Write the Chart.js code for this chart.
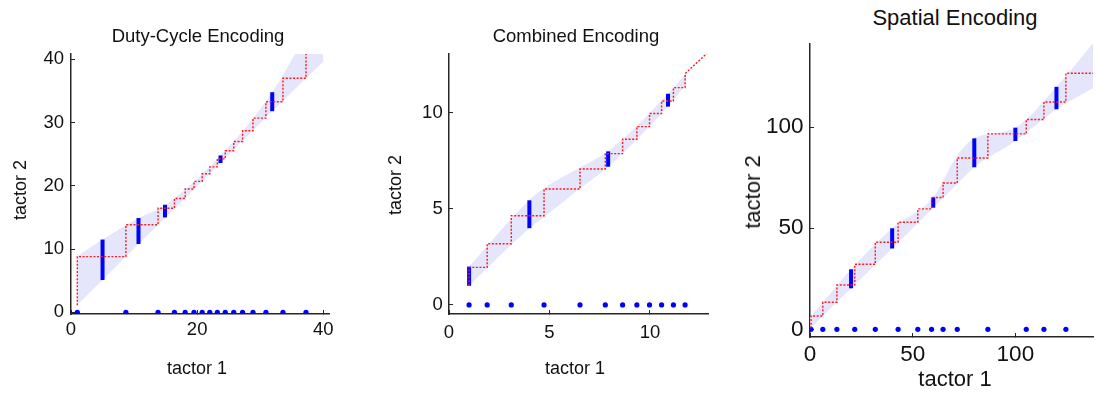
<!DOCTYPE html>
<html>
<head>
<meta charset="utf-8">
<script src="https://cdn.jsdelivr.net/npm/chart.js@4/dist/chart.umd.min.js"></script>
<style>
  html, body { margin: 0; padding: 0; background: #fff; }
  body { width: 1097px; height: 394px; position: relative; overflow: hidden;
         font-family: "Liberation Sans", Arial, sans-serif; color: #111; }
  canvas { position: absolute; }
  .lbl { position: absolute; white-space: nowrap; line-height: 1; transform: translate(-50%, -50%); }
  .rot { transform: translate(-50%, -50%) rotate(-90deg); }
</style>
</head>
<body>
<canvas id="duty" width="349" height="324" style="left:0px;top:40px"></canvas>
<canvas id="combo" width="339" height="324" style="left:389px;top:40px"></canvas>
<canvas id="spat" width="357" height="347" style="left:740px;top:30px"></canvas>

<div class="lbl" style="left:198px;top:36px;font-size:18.5px">Duty-Cycle Encoding</div>
<div class="lbl" style="left:197px;top:368px;font-size:18px">tactor 1</div>
<div class="lbl rot" style="left:20px;top:190px;font-size:18px">tactor 2</div>

<div class="lbl" style="left:576px;top:36px;font-size:18.5px">Combined Encoding</div>
<div class="lbl" style="left:575px;top:368px;font-size:18px">tactor 1</div>
<div class="lbl rot" style="left:395px;top:185px;font-size:18px">tactor 2</div>

<div class="lbl" style="left:955px;top:18px;font-size:22px">Spatial Encoding</div>
<div class="lbl" style="left:955px;top:379px;font-size:22px">tactor 1</div>
<div class="lbl rot" style="left:753px;top:192px;font-size:22px">tactor 2</div>

<script>
// ---- Duty-Cycle Encoding ----
// staircase: tactor 1 level of each trial, and tactor 2 level reached after it
const dutyT1 = [1, 8.7, 13.8, 16.4, 18.1, 19.5, 20.8, 22.0, 23.2, 24.45, 25.8, 27.2, 28.85, 30.9, 33.6, 37.25];
const dutyT2 = [8.8, 13.85, 16.45, 18.0, 19.5, 20.7, 21.9, 23.0, 24.25, 25.55, 27.0, 28.7, 30.7, 33.3, 37.0, 43];
const dutyStart = 1.1;
const dutyTail = [41, 43];
// blue error bars
const dutyBarX = [5, 10.7, 14.9, 23.7, 31.9];
const dutyBarLo = [5.1, 10.8, 15.0, 23.6, 31.8];
const dutyBarHi = [11.5, 14.9, 17.0, 24.8, 34.8];
// shaded band
const dutyBandX = [1, 5, 10.7, 15, 23.7, 31.9, 40];
const dutyBandHi = [8.9, 11.5, 14.9, 17.0, 24.8, 34.8, 49];
const dutyBandLo = [1.2, 5.1, 10.8, 15.0, 23.6, 31.8, 39.6];
const dutyTicksX = [0, 20, 40];
const dutyTicksY = [0, 10, 20, 30, 40];

// ---- Combined Encoding ----
const comboT1 = [1, 1.9, 3.1, 4.73, 6.52, 7.78, 8.64, 9.35, 9.98, 10.58, 11.17, 11.75];
const comboT2 = [1.96, 3.19, 4.65, 6.04, 7.08, 7.88, 8.63, 9.29, 9.97, 10.62, 11.32, 12.05];
const comboStart = 1.0;
const comboTail = [13.2, 13.45];
const comboBarX = [1, 4, 7.92, 10.9];
const comboBarLo = [1.0, 4.0, 7.2, 10.33];
const comboBarHi = [2.0, 5.45, 8.0, 11.0];
const comboBandX = [1, 4, 4.75, 6.5, 7.92, 10.9, 11.8];
const comboBandHi = [2.0, 5.47, 6.1, 7.15, 8.0, 11.0, 12.07];
const comboBandLo = [1.0, 4.0, 4.6, 6.05, 7.2, 10.33, 11.5];
const comboTicksX = [0, 5, 10];
const comboTicksY = [0, 5, 10];

// ---- Spatial Encoding ----
const spatT1 = [0.5, 6.24, 13.1, 21.8, 31.8, 42.9, 52.5, 59.2, 64.8, 71.7, 86.6, 105.3, 113.9, 124.6];
const spatT2 = [6.6, 13.4, 21.9, 32.2, 43.1, 53.0, 59.6, 65.2, 72.4, 84.8, 96.7, 103.8, 112.5, 126.7];
const spatStart = 0.5;
const spatTail = [145, 126.7];
const spatBarX = [20, 40, 60, 80, 100, 120];
const spatBarLo = [20.3, 40, 60.2, 80.2, 93.2, 108.9];
const spatBarHi = [29.7, 50, 65.3, 94.5, 99.8, 120];
const spatBandX = [0, 6, 20, 40, 60, 71.7, 80, 100, 120, 140];
const spatBandHi = [6, 13, 29.7, 50, 65.3, 86, 94.5, 99.8, 120, 144.3];
const spatBandLo = [0, 6.3, 20.3, 40, 60.2, 72, 80.2, 93.2, 108.9, 120.5];
const spatTicksX = [0, 50, 100];
const spatTicksY = [0, 50, 100];

const FONT = '"Liberation Sans", Arial, sans-serif';
const AXIS = '#262626';
const BAND = 'rgb(229,229,251)';

// vertical then horizontal steps: (x0,start) (x0,y0) (x1,y0) (x1,y1) ...
function staircase(xs, ys, start, tail) {
  const pts = [{ x: xs[0], y: start }];
  xs.forEach((x, i) => {
    pts.push({ x, y: ys[i] });
    if (i + 1 < xs.length) pts.push({ x: xs[i + 1], y: ys[i] });
  });
  pts.push({ x: tail[0], y: tail[1] });
  return pts;
}

function encodingChart(id, p) {
  const bars = p.barX.map((x, i) => ({
    data: [{ x, y: p.barLo[i] }, { x, y: p.barHi[i] }],
    borderColor: '#0000ff', borderWidth: 4, borderCapStyle: 'butt',
    pointRadius: 0, fill: false, order: 2
  }));
  const band = (ys) => p.bandX.map((x, i) => ({ x, y: ys[i] }));

  new Chart(document.getElementById(id), {
    type: 'line',
    data: {
      datasets: [
        { data: staircase(p.t1, p.t2, p.start, p.tail), borderColor: '#ff1a1a', borderWidth: 1.4,
          borderDash: [2, 1.6], pointRadius: 0, fill: false, order: 0 },
        { data: p.t1.map(x => ({ x, y: 0 })), showLine: false, pointRadius: 2.6,
          pointBackgroundColor: '#0000ff', pointBorderWidth: 0, order: 1 },
        ...bars,
        { data: band(p.bandHi), borderWidth: 0, borderColor: 'transparent', pointRadius: 0,
          cubicInterpolationMode: 'monotone', fill: '+1', backgroundColor: BAND, order: 8 },
        { data: band(p.bandLo), borderWidth: 0, borderColor: 'transparent', pointRadius: 0,
          cubicInterpolationMode: 'monotone', fill: false, order: 9 }
      ]
    },
    options: {
      responsive: false,
      animation: false,
      events: [],
      layout: { padding: { top: p.padTop, right: p.padRight, left: 0, bottom: 0 } },
      plugins: { legend: { display: false }, tooltip: { enabled: false } },
      scales: {
        x: {
          type: 'linear', min: p.xMin, max: p.xMax, offset: false,
          border: { display: true, color: AXIS, width: 1.5 },
          grid: { drawOnChartArea: false, drawTicks: true, tickLength: -4, color: AXIS, lineWidth: 1, offset: false },
          ticks: { font: { family: FONT, size: p.tickSize }, color: '#111', padding: p.xPad, maxRotation: 0, autoSkip: false },
          afterBuildTicks: s => { s.ticks = p.ticksX.map(v => ({ value: v })); },
          afterFit: s => { s.height = p.xAxisH; s.paddingLeft = 0; s.paddingRight = 0; }
        },
        y: {
          type: 'linear', min: p.yMin, max: p.yMax,
          border: { display: true, color: AXIS, width: 1.5 },
          grid: { drawOnChartArea: false, drawTicks: true, tickLength: -4, color: AXIS, lineWidth: 1 },
          ticks: { font: { family: FONT, size: p.tickSize }, color: '#111', padding: p.yPad, autoSkip: false },
          afterBuildTicks: s => { s.ticks = p.ticksY.map(v => ({ value: v })); },
          afterFit: s => { s.width = p.yAxisW; s.paddingTop = 0; s.paddingBottom = 0; }
        }
      }
    }
  });
}

encodingChart('duty', {
  t1: dutyT1, t2: dutyT2, start: dutyStart, tail: dutyTail,
  barX: dutyBarX, barLo: dutyBarLo, barHi: dutyBarHi,
  bandX: dutyBandX, bandHi: dutyBandHi, bandLo: dutyBandLo,
  ticksX: dutyTicksX, ticksY: dutyTicksY,
  xMin: 0, xMax: 40.9, yMin: -0.27, yMax: 40.84,
  yAxisW: 71, xAxisH: 50, padTop: 14, padRight: 20,
  tickSize: 18.5, xPad: 8.4, yPad: 11
});

encodingChart('combo', {
  t1: comboT1, t2: comboT2, start: comboStart, tail: comboTail,
  barX: comboBarX, barLo: comboBarLo, barHi: comboBarHi,
  bandX: comboBandX, bandHi: comboBandHi, bandLo: comboBandLo,
  ticksX: comboTicksX, ticksY: comboTicksY,
  xMin: 0, xMax: 12.89, yMin: -0.47, yMax: 13.07,
  yAxisW: 60, xAxisH: 50, padTop: 14, padRight: 20,
  tickSize: 18.5, xPad: 11.7, yPad: 10.3
});

encodingChart('spat', {
  t1: spatT1, t2: spatT2, start: spatStart, tail: spatTail,
  barX: spatBarX, barLo: spatBarLo, barHi: spatBarHi,
  bandX: spatBandX, bandHi: spatBandHi, bandLo: spatBandLo,
  ticksX: spatTicksX, ticksY: spatTicksY,
  xMin: 0, xMax: 137.8, yMin: -3.8, yMax: 141.2,
  yAxisW: 70, xAxisH: 40, padTop: 14, padRight: 0,
  tickSize: 22.5, xPad: 8, yPad: 10.5
});
</script>
</body>
</html>
